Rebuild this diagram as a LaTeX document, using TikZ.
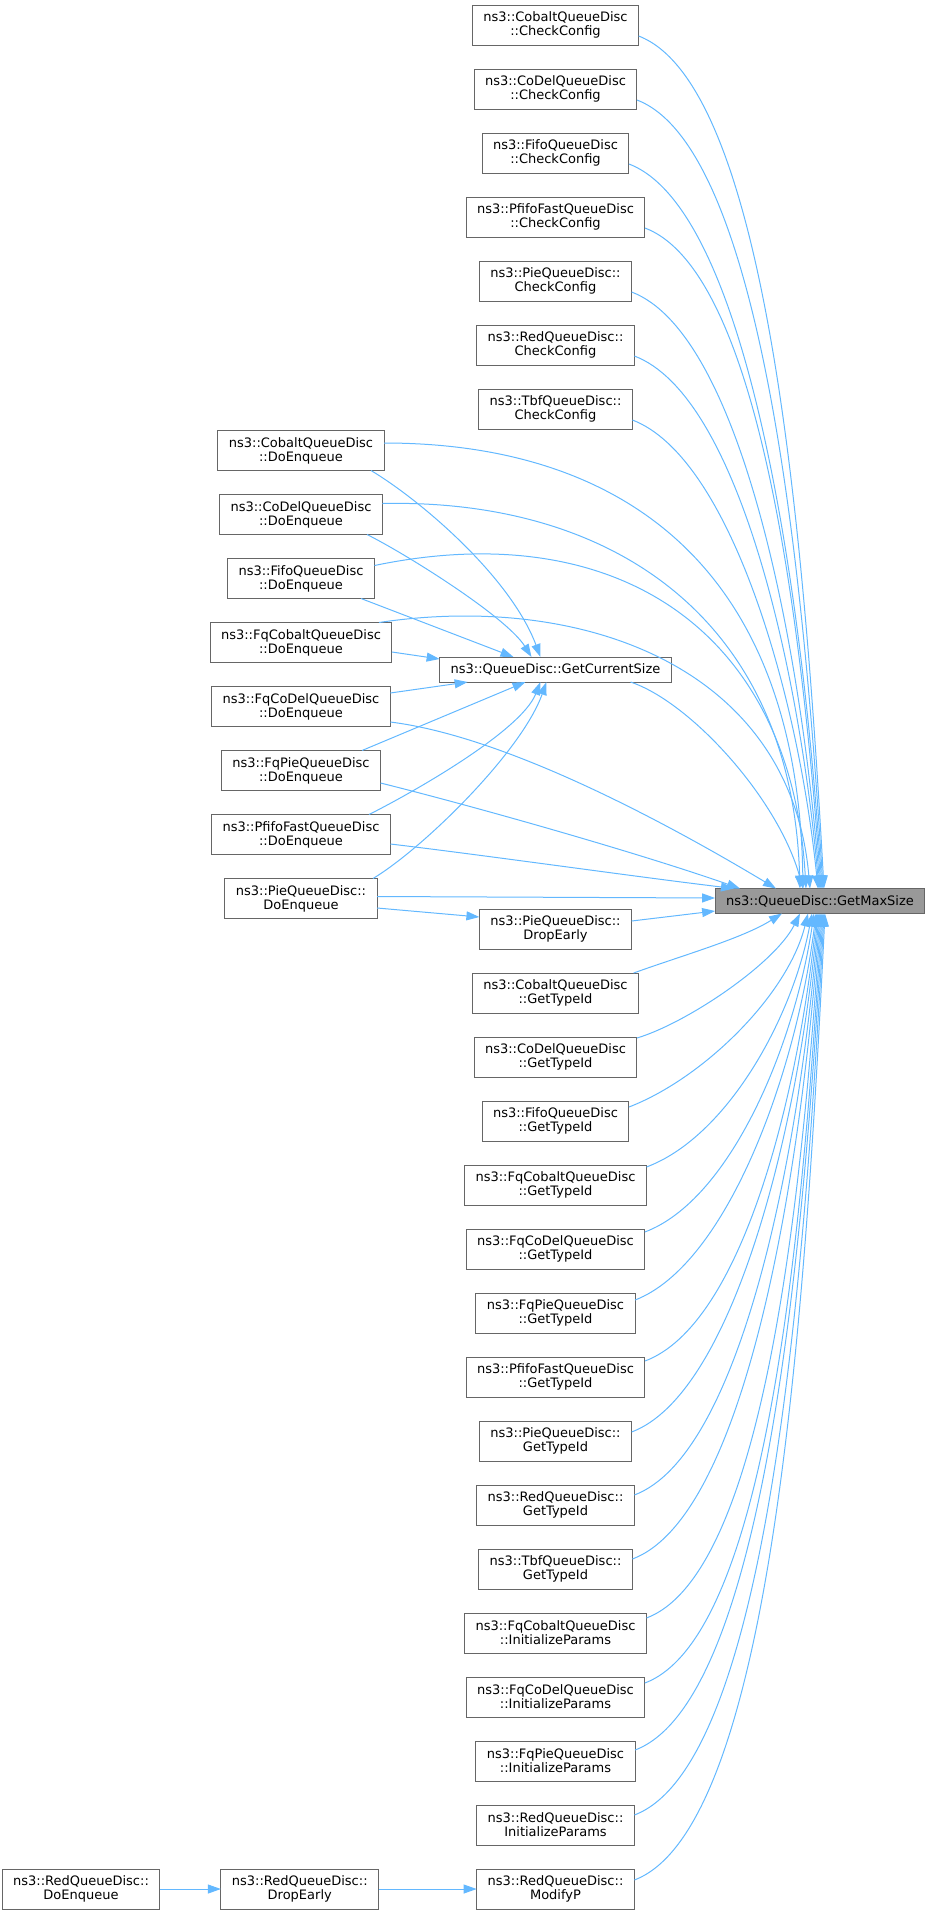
\documentclass[tikz,border=0pt]{standalone}
\usepackage{fontspec}
\setmainfont{DejaVu Sans}
\usetikzlibrary{arrows.meta,
                positioning}
\definecolor{edgeblue}{HTML}{63B8FF}
\definecolor{boxgray}{HTML}{666666}
\definecolor{focusgray}{HTML}{999999}
\tikzset{func/.style =
   {rectangle,
    draw = boxgray,
    fill = white,
    line width = 1pt,
    outer sep = 0pt,
    text centered,
    align = center,
    inner xsep = 11pt,
    font = \fontsize{13pt}{14pt}\selectfont,
    minimum height = 40pt}}
\tikzset{func-single/.style =
   {func,
    minimum height = 25pt}}
\tikzset{func-focus/.style =
   {func-single,
    fill = focusgray}}
\tikzset{arrow/.style = {draw = edgeblue, line width = 1pt, -{Triangle[length = 13pt, width = 9pt]}}}

\begin{document}
\begin{tikzpicture}[auto, x = 1pt, y = -1pt]

    \useasboundingbox (0,0) rectangle (931,1915);

    \node [func-focus] (maxsize) at (820,901) {ns3::QueueDisc::GetMaxSize};
    \node [func-single] (cursize) at (555.5,669.5) {ns3::QueueDisc::GetCurrentSize};

    \node [func] (config0) at (555.5,25) {ns3::CobaltQueueDisc\\::CheckConfig};
    \node [func,
           node distance = 24pt,
           below = of config0] (config1) {ns3::CoDelQueueDisc\\::CheckConfig};
    \node [func,
           node distance = 24pt,
           below = of config1] (config2) {ns3::FifoQueueDisc\\::CheckConfig};
    \node [func,
           node distance = 24pt,
           below = of config2] (config3) {ns3::PfifoFastQueueDisc\\::CheckConfig};
    \node [func,
           node distance = 24pt,
           below = of config3] (config4) {ns3::PieQueueDisc::\\CheckConfig};
    \node [func,
           node distance = 24pt,
           below = of config4] (config5) {ns3::RedQueueDisc::\\CheckConfig};
    \node [func,
           node distance = 24pt,
           below = of config5] (config6) {ns3::TbfQueueDisc::\\CheckConfig};

    \node [func] (enq0) at (301,450.5) {ns3::CobaltQueueDisc\\::DoEnqueue};
    \node [func,
           node distance = 24pt,
           below = of enq0] (enq1) {ns3::CoDelQueueDisc\\::DoEnqueue};
    \node [func,
           node distance = 24pt,
           below = of enq1] (enq2) {ns3::FifoQueueDisc\\::DoEnqueue};
    \node [func,
           node distance = 24pt,
           below = of enq2] (enq3) {ns3::FqCobaltQueueDisc\\::DoEnqueue};
    \node [func,
           node distance = 24pt,
           below = of enq3] (enq4) {ns3::FqCoDelQueueDisc\\::DoEnqueue};
    \node [func,
           node distance = 24pt,
           below = of enq4] (enq5) {ns3::FqPieQueueDisc\\::DoEnqueue};
    \node [func,
           node distance = 24pt,
           below = of enq5] (enq6) {ns3::PfifoFastQueueDisc\\::DoEnqueue};
    \node [func,
           node distance = 24pt,
           below = of enq6] (enq7) {ns3::PieQueueDisc::\\DoEnqueue};

    \node [func] (drop0) at (555.5,929) {ns3::PieQueueDisc::\\DropEarly};
    \node [func,
           node distance = 24pt,
           below = of drop0] (typeid0) {ns3::CobaltQueueDisc\\::GetTypeId};
    \node [func,
           node distance = 24pt,
           below = of typeid0] (typeid1) {ns3::CoDelQueueDisc\\::GetTypeId};
    \node [func,
           node distance = 24pt,
           below = of typeid1] (typeid2) {ns3::FifoQueueDisc\\::GetTypeId};
    \node [func,
           node distance = 24pt,
           below = of typeid2] (typeid3) {ns3::FqCobaltQueueDisc\\::GetTypeId};
    \node [func,
           node distance = 24pt,
           below = of typeid3] (typeid4) {ns3::FqCoDelQueueDisc\\::GetTypeId};
    \node [func,
           node distance = 24pt,
           below = of typeid4] (typeid5) {ns3::FqPieQueueDisc\\::GetTypeId};
    \node [func,
           node distance = 24pt,
           below = of typeid5] (typeid6) {ns3::PfifoFastQueueDisc\\::GetTypeId};
    \node [func,
           node distance = 24pt,
           below = of typeid6] (typeid7) {ns3::PieQueueDisc::\\GetTypeId};
    \node [func,
           node distance = 24pt,
           below = of typeid7] (typeid8) {ns3::RedQueueDisc::\\GetTypeId};
    \node [func,
           node distance = 24pt,
           below = of typeid8] (typeid9) {ns3::TbfQueueDisc::\\GetTypeId};
    \node [func,
           node distance = 24pt,
           below = of typeid9] (init0) {ns3::FqCobaltQueueDisc\\::InitializeParams};
    \node [func,
           node distance = 24pt,
           below = of init0] (init1) {ns3::FqCoDelQueueDisc\\::InitializeParams};
    \node [func,
           node distance = 24pt,
           below = of init1] (init2) {ns3::FqPieQueueDisc\\::InitializeParams};
    \node [func,
           node distance = 24pt,
           below = of init2] (init3) {ns3::RedQueueDisc::\\InitializeParams};
    \node [func,
           node distance = 24pt,
           below = of init3] (modifyp) {ns3::RedQueueDisc::\\ModifyP};

    \node [func,
           node distance = 98pt,
           left = of modifyp] (reddrop) {ns3::RedQueueDisc::\\DropEarly};
    \node [func,
           node distance = 61pt,
           left = of reddrop] (redenq) {ns3::RedQueueDisc::\\DoEnqueue};

    \draw [arrow] ([yshift=-11pt]config0.east) .. controls +(128,49) and +(-20,-358) .. ([xshift=4pt]maxsize.north);
    \draw [arrow] ([yshift=-11pt]config1.east) .. controls +(123,47) and +(-20,-331) .. ([xshift=3pt]maxsize.north);
    \draw [arrow] ([yshift=-11pt]config2.east) .. controls +(118,45) and +(-20,-304) .. ([xshift=2pt]maxsize.north);
    \draw [arrow] ([yshift=-11pt]config3.east) .. controls +(113,43) and +(-20,-277) .. ([xshift=1pt]maxsize.north);
    \draw [arrow] ([yshift=-11pt]config4.east) .. controls +(108,41) and +(-20,-251) .. (maxsize.north);
    \draw [arrow] ([yshift=-11pt]config5.east) .. controls +(103,39) and +(-20,-224) .. ([xshift=-1pt]maxsize.north);
    \draw [arrow] ([yshift=-11pt]config6.east) .. controls +(97,37) and +(-20,-197) .. ([xshift=-2pt]maxsize.north);

    \draw [arrow] ([yshift=7.5pt]enq0.east) .. controls +(240,0) and +(-5,-320) .. ([xshift=-17pt]maxsize.north);
    \draw [arrow] ([yshift=11pt]enq1.east) .. controls +(230,-5) and +(-8,-270) .. ([xshift=-20pt]maxsize.north);
    \draw [arrow] ([yshift=13pt]enq2.east) .. controls +(240,-50) and +(-15,-260) .. ([xshift=-14pt]maxsize.north);
    \draw [arrow] ([xshift=78pt]enq3.north) .. controls +(200,-30) and +(-20,-224) .. ([xshift=-10pt]maxsize.north);
    \draw [arrow] ([yshift=-15.5pt]enq4.east) .. controls +(120,15) and +(-100,-60) .. ([xshift=-44pt]maxsize.north);
    \draw [arrow] ([yshift=-12.5pt]enq5.east) .. controls +(100,25) and +(-100,-35) .. ([xshift=-80pt]maxsize.north);
    \draw [arrow] ([yshift=-9.5pt]enq6.east) .. controls +(100,12) and +(-100,-12) .. ([xshift=-86pt]maxsize.north);
    \draw [arrow] ([yshift=2pt]enq7.east) -- ([yshift=3pt]maxsize.west);

    \draw [arrow] ([xshift=70pt]enq0.south) .. controls +(50,30) and +(-30,-80) .. ([xshift=-15pt]cursize.north);
    \draw [arrow] ([xshift=66pt]enq1.south) .. controls +(40,20) and +(-25,-40) .. ([xshift=-24pt]cursize.north);
    \draw [arrow] ([xshift=60pt]enq2.south) -- ([xshift=-42pt]cursize.north);
    \draw [arrow] ([yshift=-9.5pt]enq3.east) -- ([yshift=-2pt]cursize.north west);
    \draw [arrow] ([yshift=13.5pt]enq4.east) -- ([xshift=28pt]cursize.south west);
    \draw [arrow] ([xshift=61pt]enq5.north) -- ([xshift=-30pt]cursize.south);
    \draw [arrow] ([xshift=68pt]enq6.north) .. controls +(40,-20) and +(-20,50) .. ([xshift=-15pt]cursize.south);
    \draw [arrow] ([xshift=72pt]enq7.north) .. controls +(50,-30) and +(-25,70) .. ([xshift=-9pt]cursize.south);

    \draw [arrow] ([xshift=75pt]cursize.south) .. controls +(60,20) and +(-25,-90) .. ([xshift=-17pt]maxsize.north);
    \draw [arrow] ([yshift=8pt]drop0.east) -- ([yshift=-10pt]maxsize.west);
    \draw [arrow] ([yshift=-9.5pt]enq7.east) -- ([yshift=12pt]drop0.west);

    \draw [arrow] ([xshift=-5pt]typeid0.north east) .. controls +(50,-18) and +(-40,25) .. ([xshift=-38pt]maxsize.south);
    \draw [arrow] ([yshift=-1pt]typeid1.north east) .. controls +(50,-15) and +(-25,50) .. ([xshift=-20pt]maxsize.south);
    \draw [arrow] ([yshift=14pt]typeid2.east) .. controls +(75,-29) and +(-20,81) .. ([xshift=-12pt]maxsize.south);
    \draw [arrow] ([yshift=18pt]typeid3.east) .. controls +(80,-30) and +(-20,106) .. ([xshift=-8pt]maxsize.south);
    \draw [arrow] ([yshift=17pt]typeid4.east) .. controls +(85,-32) and +(-20,134) .. ([xshift=-6pt]maxsize.south);
    \draw [arrow] ([yshift=13pt]typeid5.east) .. controls +(91,-35) and +(-20,162) .. ([xshift=-4pt]maxsize.south);
    \draw [arrow] ([yshift=16pt]typeid6.east) .. controls +(96,-36) and +(-20,188) .. ([xshift=-3pt]maxsize.south);
    \draw [arrow] ([yshift=9pt]typeid7.east) .. controls +(101,-38) and +(-20,218) .. ([xshift=-2pt]maxsize.south);
    \draw [arrow] ([yshift=10pt]typeid8.east) .. controls +(106,-40) and +(-20,244) .. ([xshift=-1pt]maxsize.south);
    \draw [arrow] ([yshift=10pt]typeid9.east) .. controls +(112,-42) and +(-20,271) .. (maxsize.south);
    \draw [arrow] ([yshift=15pt]init0.east) .. controls +(116,-44) and +(-20,296) .. ([xshift=1pt]maxsize.south);
    \draw [arrow] ([yshift=14pt]init1.east) .. controls +(122,-46) and +(-20,323) .. ([xshift=2pt]maxsize.south);
    \draw [arrow] ([yshift=11pt]init2.east) .. controls +(127,-48) and +(-20,351) .. ([xshift=3pt]maxsize.south);
    \draw [arrow] ([yshift=10pt]init3.east) .. controls +(132,-50) and +(-20,379) .. ([xshift=4pt]maxsize.south);
    \draw [arrow] ([yshift=9pt]modifyp.east) .. controls +(137,-52) and +(-20,406) .. ([xshift=5pt]maxsize.south);

    \draw [arrow] (redenq) -- (reddrop);
    \draw [arrow] (reddrop) -- (modifyp);

\end{tikzpicture}
\end{document}
